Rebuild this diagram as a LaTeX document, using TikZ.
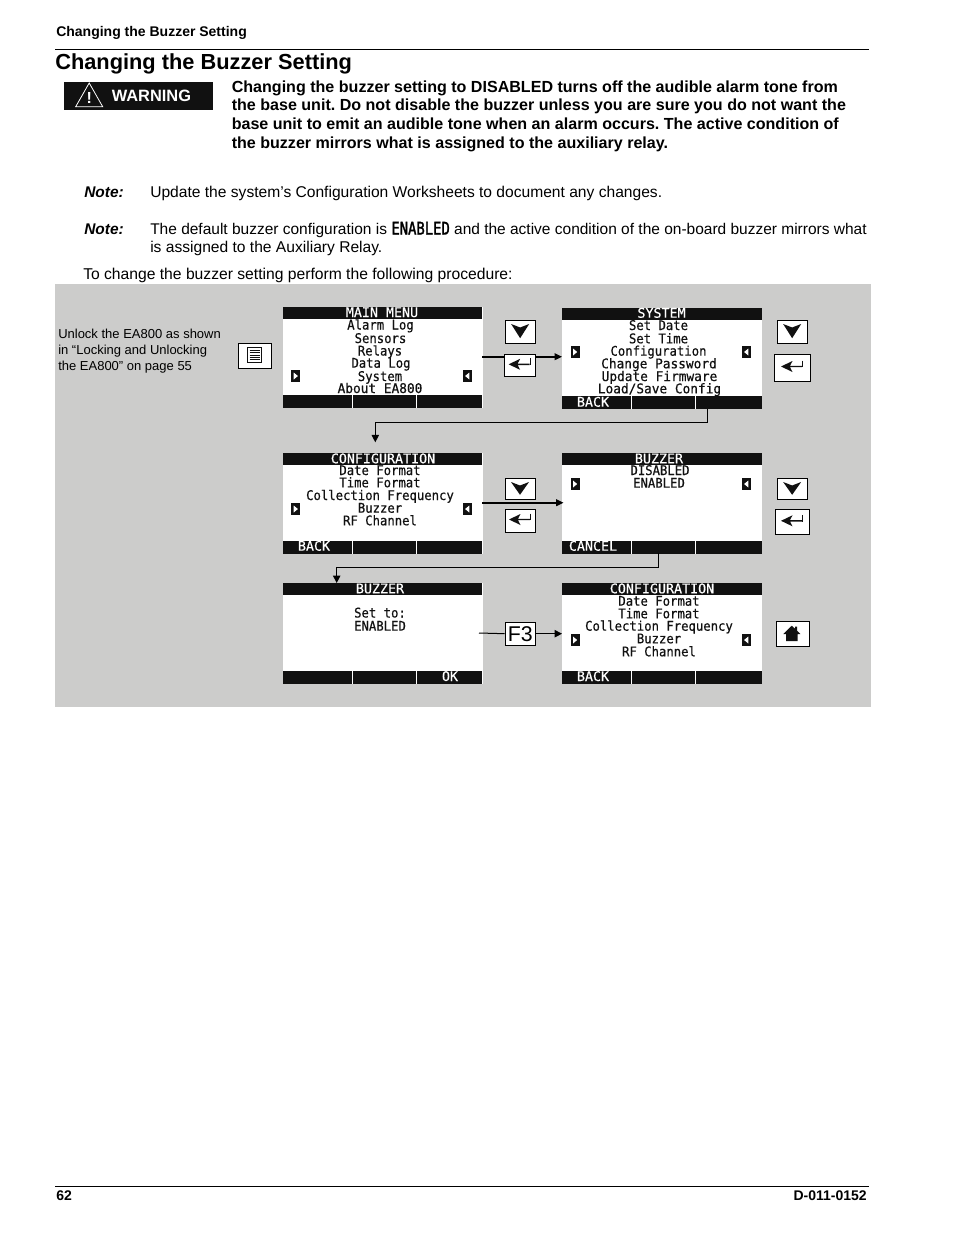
\documentclass[tikz,border=0pt]{standalone}
\usepackage{fontspec}
\setmainfont{Liberation Sans}
\newfontfamily\lcdfont[FakeStretch=0.92,FakeBold=0.5]{DejaVu Sans Mono}
\newfontfamily\lcdwidefont[FakeStretch=0.96,FakeBold=0.5]{DejaVu Sans Mono}
\newfontfamily\lcdtitlefont[FakeStretch=1.0,FakeBold=0.4]{DejaVu Sans Mono}
\newfontfamily\lcdfontb[FakeStretch=0.8,FakeBold=1.6]{DejaVu Sans Mono}
\usetikzlibrary{arrows.meta}
\definecolor{panel}{HTML}{CCCCCB}
\definecolor{lcdk}{HTML}{111111}
\frenchspacing
\tikzset{
  x=0.75pt,y=-0.75pt,
  txt/.style={anchor=base west,inner sep=0,font=\fontsize{11.7}{13}\selectfont,text=black},
  txtb/.style={txt,font=\fontsize{12.05}{13}\selectfont\bfseries},
  small/.style={txt,font=\fontsize{9.75}{11}\selectfont},
  furn/.style={txt,font=\fontsize{10.5}{11}\selectfont\bfseries},
  notelab/.style={txt,font=\fontsize{11.6}{13}\selectfont\bfseries\itshape},
  lcdline/.style={anchor=base,inner sep=0,text=lcdk,font=\lcdfont\fontsize{10}{11}\selectfont},
  lcdwide/.style={lcdline,font=\lcdwidefont\fontsize{10}{11}\selectfont},
  lcdw/.style={lcdline,text=white,font=\lcdtitlefont\fontsize{10}{11}\selectfont},
  scr/.style={draw=none,fill=white,inner sep=0,anchor=north west,minimum width=199.6*0.75pt,minimum height=100.7*0.75pt},
  btn/.style={draw=black,line width=0.6pt,fill=white,inner sep=0,anchor=north west},
  conn/.style={draw=black,line width=0.75pt,-{Triangle[length=5.5pt,width=5.5pt]}},
  connt/.style={draw=black,line width=1.2pt,-{Triangle[length=5.5pt,width=5pt]}},
}
% screen: name, x, y, title, title x, title baseline
\newcommand{\lcdscreen}[6]{%
  \node[scr] (#1) at (#2,#3) {};
  \fill[lcdk] (#2,#3) rectangle ++(199.6,11.7);
  \fill[lcdk] (#2,#3+88) rectangle ++(199.6,12.7);
  \fill[white] (#2+69,#3+88) rectangle ++(1,12.7);
  \fill[white] (#2+133,#3+88) rectangle ++(1,12.7);
  \node[lcdw] (#1t) at (#5,#6) {#4};
}
\newcommand{\markers}[3]{%
  \fill[lcdk] (#1+8.5,#3) rectangle ++(9,12);
  \fill[white] (#1+11,#3+2.5) -- (#1+15.2,#3+6) -- (#1+11,#3+9.5) -- cycle;
  \fill[lcdk] (#2,#3) rectangle ++(9.5,12);
  \fill[white] (#2+6.8,#3+2.5) -- (#2+2.6,#3+6) -- (#2+6.8,#3+9.5) -- cycle;
}
\newcommand{\downbtn}[5]{%
  \node[btn,minimum width=#4*0.75pt,minimum height=#5*0.75pt] (#1) at (#2,#3) {};
  \fill[lcdk] (#2+#4/2-9,#3+4) -- (#2+#4/2,#3+7.5) -- (#2+#4/2+9,#3+4) -- (#2+#4/2,#3+#5-4.5) -- cycle;
}
\newcommand{\enterbtn}[5]{%
  \node[btn,minimum width=#4*0.75pt,minimum height=#5*0.75pt] (#1) at (#2,#3) {};
  \fill[lcdk] (#2+#4/2-11,#3+#5/2-1) -- (#2+#4/2+0.5,#3+#5/2-6.5) -- (#2+#4/2-2,#3+#5/2-1.7) -- (#2+#4/2+10,#3+#5/2-1.7) -- (#2+#4/2+10,#3+#5/2-0.3) -- (#2+#4/2-2,#3+#5/2-0.3) -- (#2+#4/2+0.5,#3+#5/2+4.5) -- cycle;
  \draw[lcdk,line width=0.7pt] (#2+#4/2+10.5,#3+#5/2-7) -- (#2+#4/2+10.5,#3+#5/2-0.3);
}
\begin{document}
\begin{tikzpicture}
\useasboundingbox (0,0) rectangle (954,1235);
\fill[white] (0,0) rectangle (954,1235);
% page furniture
\node[furn] (hdr) at (56,36.5) {Changing the Buzzer Setting};
\coordinate (hrl) at (55,49.5); \coordinate (hrr) at (869,49.5);
\draw[black,line width=0.6pt] (hrl) -- (hrr);
\node[txtb,font=\fontsize{16.35}{18}\selectfont\bfseries] (ttl) at (55,69) {Changing the Buzzer Setting};
\fill[lcdk] (64.3,82.3) rectangle (212.7,110);
\draw[white,line width=0.6pt,line join=miter] (75.7,106.7) -- (89.2,83) -- (102.7,106.7) -- cycle;
\node[anchor=base,inner sep=0,text=white,font=\fontsize{12}{13}\selectfont\bfseries] (bang) at (89.2,103) {!};
\node[txtb,text=white,font=\fontsize{12.3}{13}\selectfont\bfseries] (warn) at (111.5,101) {WARNING};
\node[txtb] (w1) at (231.5,92) {Changing the buzzer setting to DISABLED turns off the audible alarm tone from};
\node[txtb] (w2) at (231.5,110) {the base unit. Do not disable the buzzer unless you are sure you do not want the};
\node[txtb] (w3) at (231.5,129) {base unit to emit an audible tone when an alarm occurs. The active condition of};
\node[txtb] (w4) at (231.5,148) {the buzzer mirrors what is assigned to the auxiliary relay.};
\node[notelab] (n1) at (84,197) {Note:};
\node[txt] (n1t) at (150,197) {Update the system’s Configuration Worksheets to document any changes.};
\node[notelab] (n2) at (84,234.5) {Note:};
\node[txt,font=\fontsize{11.62}{13}\selectfont] (n2t) at (150,234.5) {The default buzzer configuration is {\lcdfontb\fontsize{13}{13}\selectfont ENABLED} and the active condition of the on-board buzzer mirrors what};
\node[txt] (n2u) at (150,252) {is assigned to the Auxiliary Relay.};
\node[txt,font=\fontsize{11.75}{13}\selectfont] (proc) at (83,279) {To change the buzzer setting perform the following procedure:};
\node[furn] (pg) at (56,1200.5) {62};
\node[furn,anchor=base east] (doc) at (867,1200.5) {D-011-0152};
\coordinate (frl) at (55,1186); \coordinate (frr) at (869,1186);
\draw[black,line width=0.6pt] (frl) -- (frr);
% panel
\fill[panel] (55,284) rectangle (871,707);
\node[small] (u1) at (58,338) {Unlock the EA800 as shown};
\node[small] (u2) at (58,354) {in “Locking and Unlocking};
\node[small] (u3) at (58,370) {the EA800” on page 55};
% screens
\lcdscreen{s1}{282.7}{307}{MAIN MENU}{382}{317}
\lcdscreen{s2}{562}{308}{SYSTEM}{661.5}{317.7}
\lcdscreen{s3}{282.7}{453}{CONFIGURATION}{383}{463.3}
\lcdscreen{s4}{562}{453}{BUZZER}{659}{463.3}
\lcdscreen{s5}{282.7}{583}{BUZZER}{380}{593.3}
\lcdscreen{s6}{562}{583}{CONFIGURATION}{662}{593.3}
\markers{282.7}{462.5}{370}
\markers{562}{741.5}{346}
\markers{282.7}{462.5}{503}
\markers{562}{741.5}{478}
\markers{562}{741.5}{634}
% screen text
\node[lcdline] (a1) at (380.5,329.5) {Alarm Log};
\node[lcdline] (a2) at (380.5,343) {Sensors};
\node[lcdline] (a3) at (380,355.5) {Relays};
\node[lcdline] (a4) at (381,367.7) {Data Log};
\node[lcdline] (a5) at (380,381) {System};
\node[lcdwide] (a6) at (380,393) {About EA800};
\node[lcdline] (b1) at (658.5,330) {Set Date};
\node[lcdline] (b2) at (658.5,343.3) {Set Time};
\node[lcdline] (b3) at (658.5,355.7) {Configuration};
\node[lcdwide] (b4) at (659,368.3) {Change Password};
\node[lcdwide] (b5) at (659.5,381) {Update Firmware};
\node[lcdwide] (b6) at (659.5,393.3) {Load/Save Config};
\node[lcdw] (b7) at (593,406.7) {BACK};
\node[lcdline] (c1) at (380,475) {Date Format};
\node[lcdline] (c2) at (380,487.3) {Time Format};
\node[lcdline] (c3) at (380,500) {Collection Frequency};
\node[lcdline] (c4) at (380,512.7) {Buzzer};
\node[lcdline] (c5) at (380,525.3) {RF Channel};
\node[lcdw] (c6) at (314,550.7) {BACK};
\node[lcdline] (d1) at (660,475) {DISABLED};
\node[lcdline] (d2) at (659,487.7) {ENABLED};
\node[lcdw] (d3) at (593,550.7) {CANCEL};
\node[lcdline] (e1) at (380,617.5) {Set to:};
\node[lcdline] (e2) at (380,630.7) {ENABLED};
\node[lcdw] (e3) at (450,681) {OK};
\node[lcdline] (f1) at (659,605.7) {Date Format};
\node[lcdline] (f2) at (659,618.3) {Time Format};
\node[lcdline] (f3) at (659,630.7) {Collection Frequency};
\node[lcdline] (f4) at (659,643.3) {Buzzer};
\node[lcdline] (f5) at (659,656.3) {RF Channel};
\node[lcdw] (f6) at (593,681) {BACK};
% connector end points
\coordinate (s2o) at (707.7,408.7);
\coordinate (s3i) at (375.3,442.3);
\coordinate (s4o) at (658.7,552.7);
\coordinate (s5i) at (336.7,583);
\coordinate (r1l) at (482.3,356.7);
\coordinate (r1r) at (562,356.7);
\coordinate (r2l) at (482.3,502.7);
\coordinate (r2r) at (563.5,502.7);
\coordinate (r3l) at (479,633);
% connectors
\draw[connt] (r1l) -- (r1r);
\draw[connt] (r2l) -- (r2r);
\draw[conn] (s2o) -- (707.7,422.3) -- (375.3,422.3) -- (s3i);
\draw[conn] (s4o) -- (658.7,567.3) -- (336.7,567.3) -- (s5i);
% buttons
\node[btn,minimum width=33*0.75pt,minimum height=24.7*0.75pt] (menu) at (238.3,343) {};
\draw[lcdk,line width=1pt] (247.5,347.5) rectangle (261.5,362.3);
\foreach \yy in {350.5,352.8,355.1,357.4,359.7}{\draw[lcdk,line width=0.5pt] (249.5,\yy) -- (259.5,\yy);}
\downbtn{dn1}{505.3}{320}{29.7}{22.7}
\enterbtn{en1}{504.3}{354.3}{30.7}{22}
\downbtn{dn2}{777.3}{320}{29.7}{22.7}
\enterbtn{en2}{774.3}{354.3}{35.4}{26.4}
\downbtn{dn3}{505.3}{478}{29.4}{21.3}
\enterbtn{en3}{505.3}{509.3}{29.4}{22.4}
\downbtn{dn4}{777.3}{478}{29.7}{21.3}
\enterbtn{en4}{775.3}{509.3}{33.4}{25}
\node[btn,minimum width=30.8*0.75pt,minimum height=23.4*0.75pt,font=\fontsize{16}{17}\selectfont] (f3btn) at (504.6,621.6) {F3};
\draw[black,line width=0.75pt] (r3l) -- (f3btn.west);
\draw[conn] (f3btn.east) -- (s6.west |- f3btn.east);
\node[btn,minimum width=33.4*0.75pt,minimum height=25.4*0.75pt] (home) at (775.6,621) {};
\fill[lcdk] (783.3,634) -- (791.8,625.7) -- (795,628.7) -- (795,626.5) -- (797,626.5) -- (797,630.7) -- (800.3,634) -- (797.5,634) -- (797.5,641) -- (786,641) -- (786,634) -- cycle;
\end{tikzpicture}
\end{document}
